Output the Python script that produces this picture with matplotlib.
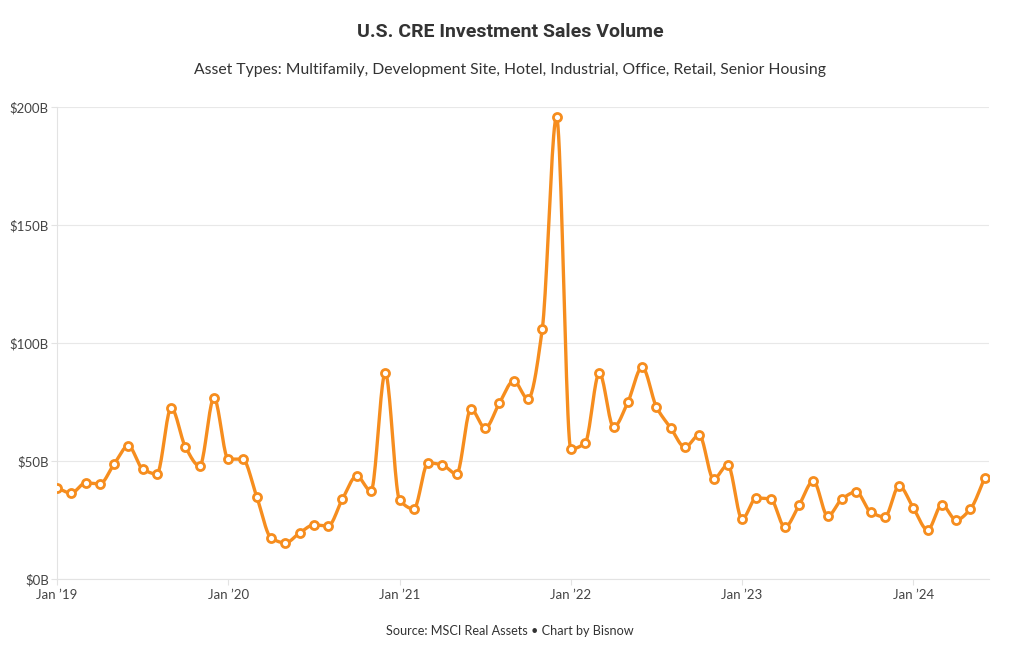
import numpy as np
import pandas as pd
import matplotlib
matplotlib.use('Agg')
import matplotlib.pyplot as plt

# monthly volume, $B, Jan 2019 .. Jun 2024
months = pd.date_range('2019-01-01', '2024-06-01', freq='MS')
volume = [38.6, 36.4, 40.7, 40.3, 48.7, 56.4, 46.6, 44.5, 72.5, 55.9, 47.9, 76.7,
          50.8, 50.8, 34.7, 17.4, 15.3, 19.5, 22.9, 22.5, 33.9, 43.6, 37.3, 87.3,
          33.5, 29.7, 49.2, 48.3, 44.5, 72.0, 64.0, 74.6, 83.9, 76.3, 105.9, 195.8,
          55.1, 57.6, 87.3, 64.4, 75.0, 89.8, 72.9, 64.0, 55.9, 61.0, 42.4, 48.3,
          25.4, 34.3, 33.9, 22.0, 31.4, 41.5, 26.7, 33.9, 36.9, 28.4, 26.3, 39.4,
          30.1, 20.8, 31.4, 25.0, 29.7, 42.8]
y_ticks = [0, 50, 100, 150, 200]
y_labels = ['$0B', '$50B', '$100B', '$150B', '$200B']
x_tick_labels = ["Jan \u201919", "Jan \u201920", "Jan \u201921", "Jan \u201922", "Jan \u201923", "Jan \u201924"]

ORANGE = '#F68D1E'


def monotone(x, y, n=20):
    """monotone cubic (like d3 curveMonotoneX)"""
    x = np.asarray(x, float)
    y = np.asarray(y, float)
    h = np.diff(x)
    d = np.diff(y) / h
    m = np.zeros_like(y)
    for i in range(1, len(y) - 1):
        if d[i - 1] * d[i] > 0:
            w1 = 2 * h[i] + h[i - 1]
            w2 = h[i] + 2 * h[i - 1]
            m[i] = (w1 + w2) / (w1 / d[i - 1] + w2 / d[i])
    m[0] = d[0]
    m[-1] = d[-1]
    xs, ys = [], []
    for i in range(len(x) - 1):
        t = np.linspace(0, 1, n, endpoint=False)
        h00 = 2 * t**3 - 3 * t**2 + 1
        h10 = t**3 - 2 * t**2 + t
        h01 = -2 * t**3 + 3 * t**2
        h11 = t**3 - t**2
        xs.append(x[i] + t * h[i])
        ys.append(h00 * y[i] + h10 * h[i] * m[i] + h01 * y[i + 1] + h11 * h[i] * m[i + 1])
    xs.append([x[-1]])
    ys.append([y[-1]])
    return np.concatenate(xs), np.concatenate(ys)


idx = np.arange(len(months))
sx, sy = monotone(idx, volume)

fig = plt.figure(figsize=(10.2, 6.5), dpi=100)
ax = fig.add_axes([57 / 1020, 1 - 579 / 650, 932 / 1020, 472 / 650])

ax.plot(sx, sy, color=ORANGE, lw=2.4, solid_capstyle='round', zorder=3)
ax.plot(idx, volume, 'o', ms=5.8, mfc='white', mec=ORANGE, mew=2, zorder=4)

ax.set_xlim(0, 65.3)
ax.set_ylim(0, 200)
ax.set_yticks(y_ticks)
ax.set_yticklabels(y_labels)
jan_idx = [i for i, m in enumerate(months) if m.month == 1]
ax.set_xticks(jan_idx)
ax.set_xticklabels(x_tick_labels)

ax.grid(axis='y', color='#e8e8e8', lw=0.8)
ax.set_axisbelow(True)
for s in ['top', 'right']:
    ax.spines[s].set_visible(False)
ax.spines['left'].set_color('#e3e3e3')
ax.spines['bottom'].set_color('#e3e3e3')
ax.tick_params(axis='both', colors='#e3e3e3', labelcolor='#444444', labelsize=9.5, length=4)
ax.tick_params(axis='y', pad=2)
ax.tick_params(axis='x', pad=3)
for lab in ax.get_xticklabels() + ax.get_yticklabels():
    lab.set_family('Lato')

fig.text(0.5, 1 - 32 / 650, 'U.S. CRE Investment Sales Volume', ha='center', va='center',
         fontsize=14, fontweight='bold', color='#333333', family='Roboto')
fig.text(0.5, 1 - 70 / 650, 'Asset Types: Multifamily, Development Site, Hotel, Industrial, Office, Retail, Senior Housing',
         ha='center', va='center', fontsize=11.3, color='#333333', family='Lato')
fig.text(0.5, 1 - 631 / 650, 'Source: MSCI Real Assets \u2022 Chart by Bisnow', ha='center', va='center',
         fontsize=9.1, color='#333333', family='Lato')

fig.savefig('out.png', dpi=100, facecolor='white')
